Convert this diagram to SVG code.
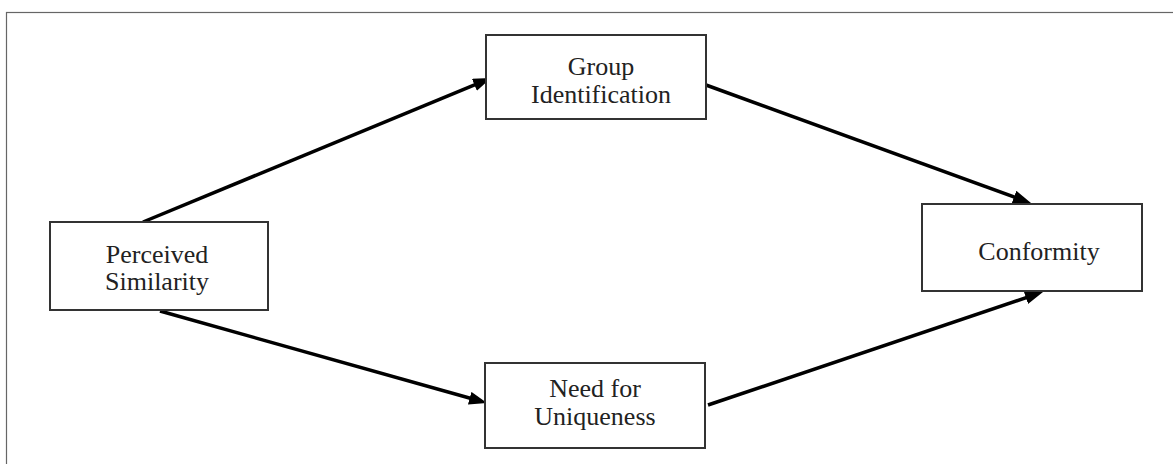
<svg xmlns="http://www.w3.org/2000/svg" width="1173" height="464" viewBox="0 0 1173 464">
  <style>
    .box { fill: #ffffff; stroke: #333333; stroke-width: 2; }
    .lbl { font-family: "Liberation Serif", "Times New Roman", serif; font-size: 26px; fill: #222222; text-anchor: middle; }
    .edge { stroke: #000000; stroke-width: 3.5; fill: none; marker-end: url(#arrow); }
  </style>
  <defs>
    <marker id="arrow" markerUnits="userSpaceOnUse" markerWidth="18" markerHeight="13" refX="8" refY="6.5" orient="auto">
      <path d="M0,0 L18,6.5 L0,13 z" fill="#000000"/>
    </marker>
  </defs>
  <rect x="0" y="0" width="1173" height="464" fill="#ffffff"/>
  <rect x="6.5" y="12.5" width="1200" height="500" fill="none" stroke="#666666" stroke-width="1.2"/>

  <g id="connectors">
    <line class="edge" x1="143" y1="222" x2="481.8" y2="81.8"/>
    <line class="edge" x1="706" y1="85" x2="1021.6" y2="199.6"/>
    <line class="edge" x1="160" y1="311" x2="477.4" y2="400.3"/>
    <line class="edge" x1="708" y1="405" x2="1033.5" y2="295.2"/>
  </g>

  <g id="perceived-similarity">
    <rect class="box" x="50" y="222" width="218" height="88"/>
    <text class="lbl" x="157" y="263">Perceived</text>
    <text class="lbl" x="157" y="290">Similarity</text>
  </g>
  <g id="group-identification">
    <rect class="box" x="486" y="35" width="220" height="84"/>
    <text class="lbl" x="601" y="75">Group</text>
    <text class="lbl" x="601" y="103">Identification</text>
  </g>
  <g id="need-for-uniqueness">
    <rect class="box" x="485" y="363" width="220" height="85"/>
    <text class="lbl" x="595" y="397">Need for</text>
    <text class="lbl" x="595" y="425">Uniqueness</text>
  </g>
  <g id="conformity">
    <rect class="box" x="922" y="204" width="220" height="87"/>
    <text class="lbl" x="1039" y="260">Conformity</text>
  </g>
</svg>
